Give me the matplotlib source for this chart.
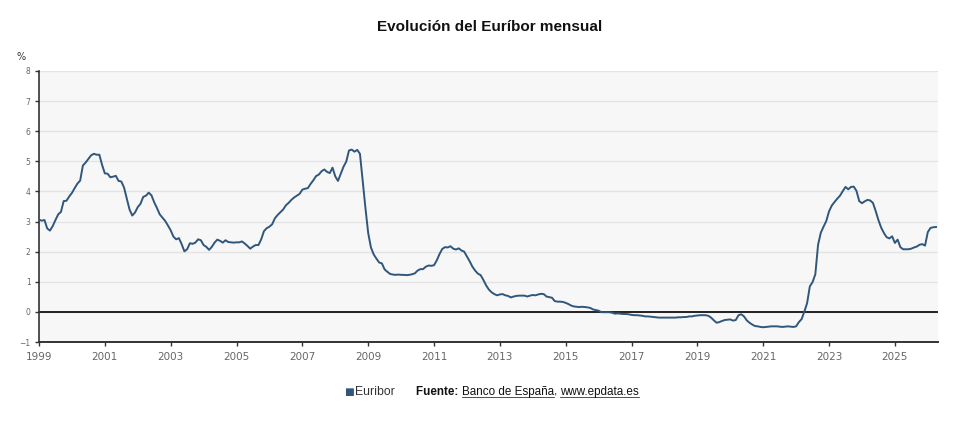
import matplotlib
matplotlib.use('Agg')
import matplotlib.pyplot as plt
import numpy as np

# Euribor a 12 meses, media mensual (%), enero..diciembre
eur_1999 = [3.06, 3.03, 3.05, 2.77, 2.70, 2.85, 3.05, 3.24, 3.32, 3.68, 3.69, 3.83]
eur_2000 = [3.95, 4.11, 4.26, 4.36, 4.86, 4.96, 5.08, 5.20, 5.25, 5.22, 5.22, 4.88]
eur_2001 = [4.60, 4.59, 4.47, 4.49, 4.52, 4.35, 4.33, 4.13, 3.77, 3.40, 3.20, 3.30]
eur_2002 = [3.48, 3.59, 3.82, 3.86, 3.96, 3.87, 3.64, 3.45, 3.24, 3.13, 3.02, 2.87]
eur_2003 = [2.71, 2.50, 2.41, 2.45, 2.25, 2.01, 2.08, 2.28, 2.26, 2.30, 2.41, 2.38]
eur_2004 = [2.22, 2.16, 2.06, 2.16, 2.30, 2.40, 2.36, 2.30, 2.38, 2.32, 2.31, 2.30]
eur_2005 = [2.31, 2.31, 2.34, 2.27, 2.19, 2.10, 2.17, 2.22, 2.22, 2.41, 2.68, 2.78]
eur_2006 = [2.83, 2.91, 3.11, 3.22, 3.31, 3.40, 3.54, 3.62, 3.72, 3.80, 3.86, 3.92]
eur_2007 = [4.06, 4.09, 4.11, 4.25, 4.37, 4.51, 4.56, 4.67, 4.73, 4.65, 4.61, 4.79]
eur_2008 = [4.50, 4.35, 4.59, 4.82, 4.99, 5.36, 5.39, 5.32, 5.38, 5.25, 4.35, 3.45]
eur_2009 = [2.62, 2.14, 1.91, 1.77, 1.64, 1.61, 1.41, 1.33, 1.26, 1.24, 1.23, 1.24]
eur_2010 = [1.23, 1.23, 1.22, 1.23, 1.25, 1.28, 1.37, 1.42, 1.42, 1.50, 1.54, 1.53]
eur_2011 = [1.55, 1.71, 1.92, 2.09, 2.15, 2.14, 2.18, 2.10, 2.07, 2.11, 2.04, 2.00]
eur_2012 = [1.84, 1.68, 1.50, 1.37, 1.27, 1.22, 1.06, 0.88, 0.74, 0.65, 0.59, 0.55]
eur_2013 = [0.58, 0.59, 0.55, 0.53, 0.48, 0.51, 0.53, 0.54, 0.54, 0.54, 0.51, 0.54]
eur_2014 = [0.56, 0.55, 0.58, 0.60, 0.59, 0.51, 0.49, 0.47, 0.36, 0.34, 0.34, 0.33]
eur_2015 = [0.30, 0.26, 0.21, 0.18, 0.17, 0.16, 0.17, 0.16, 0.15, 0.13, 0.08, 0.06]
eur_2016 = [0.04, -0.01, -0.01, -0.01, -0.01, -0.03, -0.06, -0.05, -0.06, -0.07, -0.07, -0.08]
eur_2017 = [-0.10, -0.11, -0.11, -0.12, -0.13, -0.15, -0.15, -0.16, -0.17, -0.18, -0.19, -0.19]
eur_2018 = [-0.19, -0.19, -0.19, -0.19, -0.19, -0.18, -0.18, -0.17, -0.17, -0.15, -0.15, -0.13]
eur_2019 = [-0.12, -0.11, -0.11, -0.11, -0.13, -0.19, -0.28, -0.36, -0.34, -0.30, -0.27, -0.26]
eur_2020 = [-0.25, -0.29, -0.27, -0.11, -0.08, -0.15, -0.28, -0.36, -0.42, -0.47, -0.48, -0.50]
eur_2021 = [-0.51, -0.50, -0.49, -0.48, -0.48, -0.48, -0.49, -0.50, -0.49, -0.48, -0.49, -0.50]
eur_2022 = [-0.48, -0.34, -0.24, 0.01, 0.29, 0.85, 0.99, 1.25, 2.23, 2.63, 2.83, 3.02]
eur_2023 = [3.34, 3.53, 3.65, 3.76, 3.86, 4.01, 4.15, 4.07, 4.15, 4.16, 4.02, 3.68]
eur_2024 = [3.61, 3.67, 3.72, 3.70, 3.62, 3.35, 3.05, 2.80, 2.62, 2.48, 2.44, 2.51]
eur_2025 = [2.29, 2.40, 2.15, 2.08, 2.08, 2.08, 2.10, 2.14, 2.17, 2.23, 2.25, 2.20]
eur_2026 = [2.65, 2.79, 2.81, 2.82]

start_year = 1999
x_ticks = list(range(1999, 2026, 2))
y_ticks = list(range(-1, 9))

values = (eur_1999 + eur_2000 + eur_2001 + eur_2002 + eur_2003 + eur_2004 + eur_2005
          + eur_2006 + eur_2007 + eur_2008 + eur_2009 + eur_2010 + eur_2011 + eur_2012
          + eur_2013 + eur_2014 + eur_2015 + eur_2016 + eur_2017 + eur_2018 + eur_2019
          + eur_2020 + eur_2021 + eur_2022 + eur_2023 + eur_2024 + eur_2025 + eur_2026)
dates = start_year + np.arange(len(values)) / 12.0

line_col = '#30577b'
txt_col = '#666666'

fig = plt.figure(figsize=(9.8, 4.21), dpi=100)
ax = fig.add_axes([39/980, 1-342/421, (938-39)/980, (342-71)/421])
ax.set_facecolor('#f7f7f7')

ax.plot(dates, values, color=line_col, lw=1.4, zorder=3)
ax.axhline(0, color='#222222', lw=1.4, zorder=2)

ax.set_xlim(1999, 2026.31)
ax.set_ylim(-1, 8)
ax.set_xticks(x_ticks)
ax.set_yticks(y_ticks)
ax.grid(axis='y', color='#e3e3e3', lw=1.0, zorder=0)
ax.grid(axis='x', visible=False)

for s in ['top', 'right']:
    ax.spines[s].set_visible(False)
ax.spines['left'].set_color('#333333')
ax.spines['bottom'].set_color('#333333')
ax.spines['left'].set_linewidth(1.2)
ax.spines['bottom'].set_linewidth(1.4)

ax.tick_params(axis='x', length=3, width=1, color='#333333', labelsize=7.5,
               labelcolor=txt_col, pad=4)
ax.tick_params(axis='y', length=3, width=1, color='#333333', labelsize=5.5,
               labelcolor=txt_col, pad=3)
ax.set_yticklabels(['\u22121' if v < 0 else str(v) for v in y_ticks])

fig.text(490/980, 1-27/421, 'Evolución del Euríbor mensual', ha='center', va='center',
         fontsize=11, fontweight='bold', color='#111111', family='Liberation Sans')
fig.text(16/980, 1-57/421, '%', ha='left', va='center', fontsize=7, color='#333333')

# leyenda y fuente al pie
ly = 1-392/421
fig.text(344/980, ly, '\u25a0', ha='left', va='center', fontsize=7.5, color=line_col)
fig.text(355/980, ly, 'Euribor', ha='left', va='center', fontsize=8.8, color='#333333',
         family='Liberation Sans')

fig.canvas.draw()
r = fig.canvas.get_renderer()
parts = [('Fuente: ', 'bold', False), ('Banco de España', 'normal', True),
         (', ', 'normal', False), ('www.epdata.es', 'normal', True)]
xpos = 416/980
for txt, w, und in parts:
    t = fig.text(xpos, ly, txt, ha='left', va='center', fontsize=8.4,
                 fontweight=w, color='#111111', family='Liberation Sans')
    bb = t.get_window_extent(renderer=r)
    x0 = bb.x0 / fig.bbox.width
    x1 = bb.x1 / fig.bbox.width
    if und:
        uy = (bb.y0 + 1.5) / fig.bbox.height
        fig.add_artist(plt.Line2D([x0, x1], [uy, uy], color='#333333', lw=0.6,
                                  transform=fig.transFigure))
    xpos = x1

fig.savefig('out.png', dpi=100)
